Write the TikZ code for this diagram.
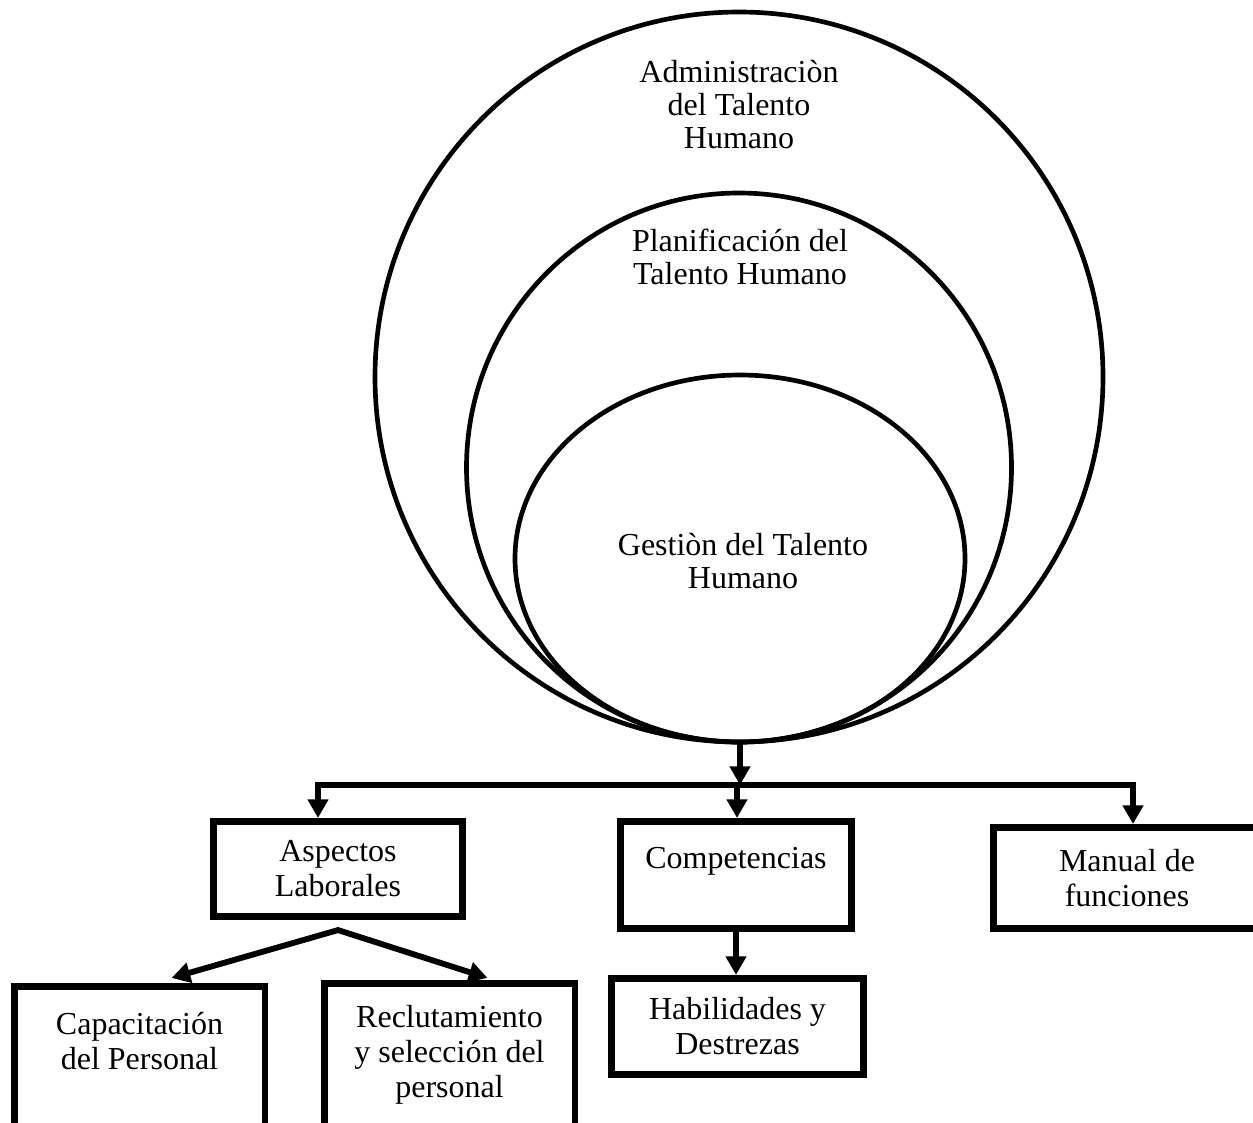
\documentclass[tikz,border=0pt]{standalone}
\usepackage{fontspec}
\setmainfont{Liberation Serif}
\usepackage{tikz}
\usetikzlibrary{shapes.geometric,arrows.meta}

\begin{document}
\begin{tikzpicture}[x=0.75pt, y=-0.75pt,
      elipse/.style={draw, ellipse, line width=3.5pt, inner sep=0pt},
      texto/.style={align=center, inner sep=0pt, font=\fontsize{24}{24.75}\selectfont},
      caja/.style={draw, line width=5pt, align=center, inner sep=0pt,
                   font=\fontsize{24}{26.25}\selectfont},
      flecha/.style={line width=4.4pt, -{Triangle[length=14pt,width=15pt]}}]
      \useasboundingbox (0, 0) rectangle (1253, 1122);
      % circulos
      \node [elipse, minimum width=546pt, minimum height=547.5pt] (admin) at (739, 377) {};
      \node [elipse, minimum width=408.75pt, minimum height=411.75pt] (plan) at (739, 467.5) {};
      \node [elipse, minimum width=337.5pt, minimum height=275.25pt] (gest) at (740, 558.5) {};
      \node [texto] (tadmin) at (739, 105) {Administraciòn\\del Talento\\Humano};
      \node [texto] (tplan) at (740, 257) {Planificación del\\Talento Humano};
      \node [texto] (tgest) at (743, 561) {Gestiòn del Talento\\Humano};
      % cajas
      \node [caja, minimum width=187pt, minimum height=71.6pt] (asp) at (338, 869) {Aspectos\\Laborales};
      \node [caja, minimum width=173.6pt, minimum height=80.6pt] (comp) at (736, 875) {Competencias\\~};
      \node [caja, minimum width=200.6pt, minimum height=76.1pt] (man) at (1127, 878) {Manual de\\funciones};
      \node [caja, minimum width=188pt, minimum height=107.6pt] (cap) at (139.5, 1058) {Capacitación\\del Personal\\~};
      \node [caja, minimum width=188pt, minimum height=107.6pt] (rec) at (449.5, 1055) {Reclutamiento\\y selección del\\personal};
      \node [caja, minimum width=189.4pt, minimum height=72.4pt] (hab) at (737.5, 1026.5) {Habilidades y\\Destrezas};
      % flechas
      \coordinate (hub) at (737, 785);
      \draw [flecha] (gest.south) -- (gest.south |- hub);
      \draw [flecha] (hub) -| ([xshift=-15pt]asp.north);
      \draw [flecha] (hub) -| ([xshift=4.5pt]man.north);
      \draw [flecha] (hub) -- (hub |- comp.north);
      \draw [flecha] (comp.south) -- (comp.south |- hab.north);
      \draw [line width=4.4pt, {Triangle[length=14pt,width=15pt]}-{Triangle[length=14pt,width=15pt]}]
            ([shift={(24pt,3.75pt)}]cap.north) -- ([yshift=-7.5pt]asp.south) -- ([shift={(28.5pt,1.5pt)}]rec.north);
\end{tikzpicture}
\end{document}
